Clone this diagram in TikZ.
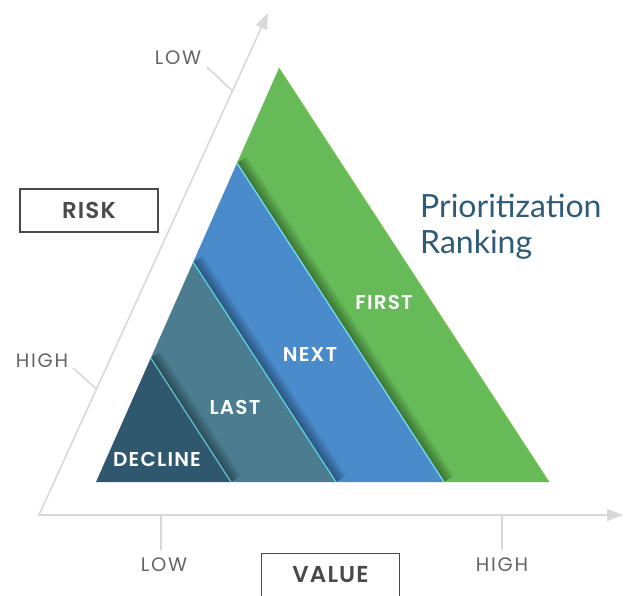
\documentclass[tikz,border=0pt]{standalone}
\usepackage{fontspec}
\newfontfamily\labelfont{Poppins}[BoldFont={Poppins SemiBold}]
\newfontfamily\titlefont{Lato}
\definecolor{axiscolor}{HTML}{D8D8DB}
\definecolor{textcolor}{HTML}{4A4A4A}
\definecolor{firstcolor}{HTML}{66BB58}
\definecolor{nextcolor}{HTML}{4A8BCB}
\definecolor{lastcolor}{HTML}{4B7C90}
\definecolor{declinecolor}{HTML}{2F576E}
\definecolor{titlecolor}{HTML}{2E5B78}
\usetikzlibrary{arrows.meta,calc,positioning}
\tikzset{
	axis/.style={
		draw=axiscolor,
		line width=1.6pt,
		line join=miter,
		{Triangle[length=16pt,width=12pt]}-{Triangle[length=16pt,width=12pt]}
	},
	tick/.style={
		draw=axiscolor,
		line width=1.6pt
	},
	axislabel/.style={
		text=textcolor!85,
		font=\labelfont\addfontfeatures{LetterSpace=9}\fontsize{19.5}{19.5}\selectfont,
		inner sep=0pt
	},
	axisbox/.style={
		rectangle,
		draw=textcolor,
		line width=1.2pt,
		text=textcolor,
		font=\labelfont\bfseries\addfontfeatures{LetterSpace=5}\fontsize{23}{23}\selectfont,
		minimum width=138pt,
		minimum height=43pt
	},
	bandlabel/.style={
		text=white,
		font=\labelfont\bfseries\addfontfeatures{LetterSpace=6}\fontsize{20}{20}\selectfont,
		inner sep=0pt
	},
	shadow/.style={
		draw=black,
		opacity=0.035
	},
	edgeline/.style={
		line width=1.3pt
	},
	title/.style={
		text=titlecolor,
		font=\titlefont\fontsize{32}{36}\selectfont,
		inner sep=0pt
	},
}

\begin{document}
\begin{tikzpicture}[x=1pt,y=-1pt]
\useasboundingbox (0,0) rectangle (631,595);

% axes
\coordinate (origin) at (39,515);
\coordinate (risktip) at (268,13);
\coordinate (valuetip) at (623,515);
\draw[axis] (risktip) -- (origin) -- (valuetip);

% ticks
\coordinate (risklow) at (232.5,91);
\coordinate (risklowend) at (207,67);
\coordinate (riskhigh) at (96.5,389);
\coordinate (riskhighend) at (73,368);
\coordinate (valuelow) at (161,515);
\coordinate (valuelowend) at (161,550);
\coordinate (valuehigh) at (502,515);
\coordinate (valuehighend) at (502,550);
\draw[tick] (risklow) -- (risklowend);
\draw[tick] (riskhigh) -- (riskhighend);
\draw[tick] (valuelow) -- (valuelowend);
\draw[tick] (valuehigh) -- (valuehighend);

\node[axislabel] (lowrisk) at (178,58) {LOW};
\node[axislabel] (highrisk) at (42,361) {HIGH};
\node[axislabel] (lowvalue) at (164,565) {LOW};
\node[axislabel] (highvalue) at (502,565) {HIGH};

\node[axisbox] (risk) at (89,210.5) {RISK};
\node[axisbox] (value) at (330.5,575) {VALUE};

% bands
\coordinate (a) at (96,482);
\coordinate (apex) at (279,68);
\coordinate (l1) at ($(a)!0.2995!(apex)$);
\coordinate (l2) at ($(a)!0.531!(apex)$);
\coordinate (l3) at ($(a)!0.7705!(apex)$);
\coordinate (b1) at (231,482);
\coordinate (b2) at (336,482);
\coordinate (b3) at (444,482);
\coordinate (b4) at (549,482);

\fill[declinecolor] (a) -- (l1) -- (b1) -- cycle;
\fill[lastcolor] (l1) -- (l2) -- (b2) -- (b1) -- cycle;
\fill[nextcolor] (l2) -- (l3) -- (b3) -- (b2) -- cycle;
\fill[firstcolor] (l3) -- (apex) -- (b4) -- (b3) -- cycle;

% shadows
\begin{scope}
\clip (l1) -- (l2) -- (b2) -- (b1) -- cycle;
\foreach \w in {2,4,...,24}
	\draw[shadow,line width=\w pt] (l1) -- (b1);
\end{scope}
\begin{scope}
\clip (l2) -- (l3) -- (b3) -- (b2) -- cycle;
\foreach \w in {2,4,...,24}
	\draw[shadow,line width=\w pt] (l2) -- (b2);
\end{scope}
\begin{scope}
\clip (l3) -- (apex) -- (b4) -- (b3) -- cycle;
\foreach \w in {2,4,...,24}
	\draw[shadow,line width=\w pt] (l3) -- (b3);
\end{scope}

\draw[edgeline,declinecolor!55!cyan!70!white] (l1) -- (b1);
\draw[edgeline,lastcolor!45!cyan!75!white] (l2) -- (b2);
\draw[edgeline,nextcolor!45!cyan!65!white] (l3) -- (b3);
\draw[firstcolor!85!yellow,line width=0.8pt] (apex) -- (b4);

\node[bandlabel] (first) at (384,302) {FIRST};
\node[bandlabel] (next) at (310,355) {NEXT};
\node[bandlabel] (last) at (235,407) {LAST};
\node[bandlabel] (decline) at (157,459) {DECLINE};

% title
\node[title,anchor=base west] (prio) at (420,217) {Prioritization};
\node[title,anchor=base west] (rank) at ([yshift=-36pt]prio.base west) {Ranking};
\end{tikzpicture}
\end{document}
